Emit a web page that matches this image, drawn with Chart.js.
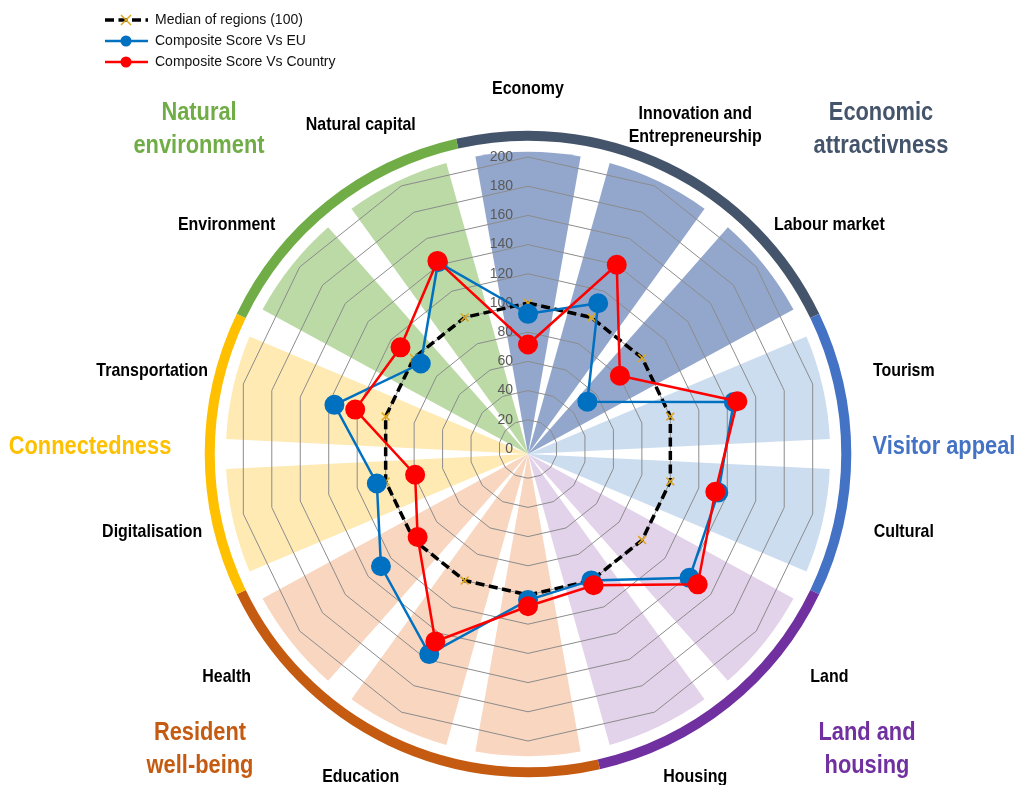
<!DOCTYPE html>
<html>
<head>
<meta charset="utf-8">
<title>Composite score radar</title>
<script src="https://cdn.jsdelivr.net/npm/chart.js@4.4.0/dist/chart.umd.min.js"></script>
<style>
  html, body { margin: 0; padding: 0; background: #fff; }
  #wrap { width: 1020px; height: 785px; }
</style>
</head>
<body>
<div id="wrap"><canvas id="myChart" width="1020" height="785"></canvas></div>
<script>
// one entry per spoke, clockwise from the top. the bottom spoke has no label in the original
var categories = ["Economy", ["Innovation and", "Entrepreneurship"], "Labour market", "Tourism", "Cultural",
  "Land", "Housing", "", "Education", "Health", "Digitalisation", "Transportation", "Environment", "Natural capital"];

var medianValues = [100, 100, 100, 100, 100, 100, 100, 100, 100, 100, 100, 100, 100, 100];
var euValues = [92.6, 110.8, 52, 144.6, 133.7, 141.5, 99.9, 103.5, 155.9, 128.8, 106.2, 136, 93.9, 142];
var countryValues = [71.6, 140.1, 80.5, 147.1, 131.6, 148.7, 103.6, 107.7, 146.3, 96.7, 79.3, 121.4, 111.7, 143];

var seriesNames = ["Median of regions (100)", "Composite Score Vs EU", "Composite Score Vs Country"];

// groups of spokes, in the same clockwise order
var groupNames = [["Economic", "attractivness"], ["Visitor appeal"], ["Land and", "housing"],
  ["Resident", "well-being"], ["Connectedness"], ["Natural", "environment"]];
var groupSizes = [3, 2, 2, 3, 2, 2];
var groupColors = ["#44546A", "#4472C4", "#7030A0", "#C55A11", "#FFC000", "#70AD47"];
var wedgeColors = ["#93A7CC", "#CCDDF0", "#E2D2EA", "#F8D6C0", "#FFEAB3", "#BBDAA6"];

var tickMax = 200;
var tickStep = 20;

var FONT = '"Liberation Sans", Arial, sans-serif';

// text squeezed sideways, the original uses a narrow bold face
function narrowText(ctx, txt, x, y, ratio) {
  var w = ctx.measureText(txt).width;
  ctx.fillText(txt, x, y, w * ratio);
}

// coloured sectors + outer group ring, behind the grid
var backdrop = {
  id: 'backdrop',
  beforeDraw: function(chart) {
    var ctx = chart.ctx;
    var sc = chart.scales.r;
    var cx = sc.xCenter, cy = sc.yCenter + 5;
    var step = 2 * Math.PI / categories.length;
    var wedgeR = sc.getDistanceFromCenterForValue(207);
    var bandR = sc.getDistanceFromCenterForValue(218);
    ctx.save();
    var k = 0;
    groupSizes.forEach(function(size, g) {
      var first = k;
      for (var j = 0; j < size; j++, k++) {
        var a = sc.getIndexAngle(k) - Math.PI / 2;
        ctx.beginPath();
        ctx.moveTo(cx, cy);
        ctx.arc(cx, cy, wedgeR, a - step * 0.39, a + step * 0.39);
        ctx.closePath();
        ctx.fillStyle = wedgeColors[g];
        ctx.fill();
      }
      var a0 = sc.getIndexAngle(first) - Math.PI / 2 - step / 2;
      var a1 = sc.getIndexAngle(k - 1) - Math.PI / 2 + step / 2;
      ctx.beginPath();
      ctx.arc(cx, cy, bandR, a0, a1);
      ctx.lineWidth = 10;
      ctx.strokeStyle = groupColors[g];
      ctx.stroke();
    });
    ctx.restore();
  },
  beforeDatasetsDraw: function(chart) {
    // tick values up the top spoke, right aligned
    var ctx = chart.ctx;
    var sc = chart.scales.r;
    ctx.save();
    ctx.font = '14px ' + FONT;
    ctx.fillStyle = '#595959';
    ctx.textAlign = 'right';
    ctx.textBaseline = 'middle';
    sc.ticks.forEach(function(t) {
      ctx.fillText(String(t.value), sc.xCenter - 15, sc.yCenter - sc.getDistanceFromCenterForValue(t.value));
    });
    ctx.restore();
  }
};

var texts = {
  id: 'texts',
  afterDraw: function(chart) {
    var ctx = chart.ctx;
    var sc = chart.scales.r;
    var R = sc.drawingArea;
    ctx.save();

    // spoke labels on an ellipse outside the ring
    ctx.font = 'bold 19px ' + FONT;
    ctx.fillStyle = '#000';
    ctx.textAlign = 'center';
    ctx.textBaseline = 'middle';
    categories.forEach(function(lab, i) {
      if (!lab) return;
      var a = sc.getIndexAngle(i) - Math.PI / 2;
      var x = sc.xCenter + Math.cos(a) * R * 1.32;
      var y = sc.yCenter + 2 + Math.sin(a) * R * 1.24;
      var lines = Array.isArray(lab) ? lab : [lab];
      lines.forEach(function(s, li) {
        narrowText(ctx, s, x, y + (li - (lines.length - 1) / 2) * 23, 0.84);
      });
    });

    // group titles
    var groupPos = [[353, -320], [416, -2], [339, 300], [-328, 300], [-438, -2], [-329, -320]];
    ctx.font = 'bold 26px ' + FONT;
    groupNames.forEach(function(lines, g) {
      ctx.fillStyle = groupColors[g];
      var x = sc.xCenter + groupPos[g][0];
      var y = sc.yCenter + groupPos[g][1];
      lines.forEach(function(s, li) {
        narrowText(ctx, s, x, y + (li - (lines.length - 1) / 2) * 33, 0.84);
      });
    });

    // legend, top left, one row per series
    var order = [2, 1, 0];
    ctx.font = '14px ' + FONT;
    ctx.textAlign = 'left';
    seriesNames.forEach(function(name, i) {
      var ds = chart.data.datasets[i];
      var y = 20 + i * 21;
      ctx.save();
      ctx.strokeStyle = ds.borderColor;
      ctx.lineWidth = ds.borderWidth;
      ctx.setLineDash(ds.borderDash || []);
      ctx.beginPath();
      ctx.moveTo(105, y);
      ctx.lineTo(148, y);
      ctx.stroke();
      ctx.setLineDash([]);
      ctx.strokeStyle = ds.pointBorderColor;
      ctx.fillStyle = ds.pointBackgroundColor;
      ctx.lineWidth = ds.pointBorderWidth;
      ctx.beginPath();
      if (ds.pointStyle === 'crossRot') {
        ctx.moveTo(121, y - 5); ctx.lineTo(131, y + 5);
        ctx.moveTo(121, y + 5); ctx.lineTo(131, y - 5);
        ctx.stroke();
      } else {
        ctx.arc(126, y, 5.5, 0, Math.PI * 2);
        ctx.fill();
      }
      ctx.restore();
      ctx.fillStyle = '#111';
      ctx.fillText(name, 155, y);
    });
    ctx.restore();
  }
};

var myChart = new Chart(document.getElementById('myChart'), {
  type: 'radar',
  data: {
    labels: categories,
    datasets: [
      {
        label: seriesNames[0],
        data: medianValues,
        order: 3,
        fill: false,
        borderColor: '#000000',
        borderWidth: 3.5,
        borderDash: [9, 4.5],
        pointStyle: 'crossRot',
        pointRadius: 5.5,
        pointBorderWidth: 1.5,
        pointBorderColor: '#E0A81C',
        pointBackgroundColor: '#E0A81C'
      },
      {
        label: seriesNames[1],
        data: euValues,
        order: 2,
        fill: false,
        borderColor: '#0070C0',
        borderWidth: 2.5,
        pointStyle: 'circle',
        pointRadius: 9,
        pointBorderWidth: 2,
        pointBorderColor: '#0070C0',
        pointBackgroundColor: '#0070C0'
      },
      {
        label: seriesNames[2],
        data: countryValues,
        order: 1,
        fill: false,
        borderColor: '#FF0000',
        borderWidth: 2.5,
        pointStyle: 'circle',
        pointRadius: 9,
        pointBorderWidth: 2,
        pointBorderColor: '#FF0000',
        pointBackgroundColor: '#FF0000'
      }
    ]
  },
  options: {
    responsive: false,
    animation: false,
    layout: { padding: { left: 36, right: 0, top: 157, bottom: 44 } },
    elements: { line: { tension: 0 } },
    plugins: {
      legend: { display: false },
      tooltip: { enabled: false }
    },
    scales: {
      r: {
        min: 0,
        max: tickMax,
        ticks: { stepSize: tickStep, display: false },
        grid: { color: '#8C8C8C', lineWidth: 1, circular: false },
        angleLines: { display: false },
        pointLabels: { display: false }
      }
    }
  },
  plugins: [backdrop, texts]
});
</script>
</body>
</html>
